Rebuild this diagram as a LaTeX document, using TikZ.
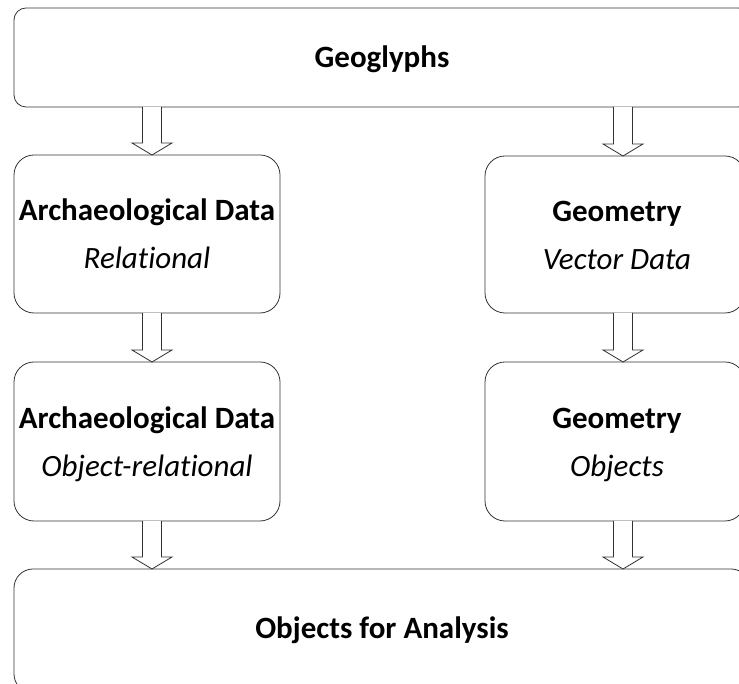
\documentclass[tikz,border=0pt]{standalone}
\usepackage{fontspec}
\setmainfont{Carlito}[Ligatures=CommonOff]
\usetikzlibrary{calc}
\tikzset{
  box/.style={draw=black!80, line width=0.8pt, fill=white, inner sep=0pt, outer sep=0pt},
  lab/.style={inner sep=0pt, outer sep=0pt, anchor=base, font=\fontsize{31}{31}\selectfont\bfseries},
  sub/.style={inner sep=0pt, outer sep=0pt, anchor=base, font=\fontsize{31}{31}\selectfont\itshape},
  barr/.style={draw=black!80, line width=0.8pt, fill=white, line join=miter},
}
\newcommand\blockarr[3]{%
  \draw[barr] let \p1=(#1.south), \p2=(#2.north) in
    (#3pt-9.5pt,\y1) -- (#3pt-9.5pt,\y2+12pt) -- (#3pt-20pt,\y2+12pt) -- (#3pt,\y2)
    -- (#3pt+20pt,\y2+12pt) -- (#3pt+9.5pt,\y2+12pt) -- (#3pt+9.5pt,\y1);%
}
\begin{document}
\begin{tikzpicture}[x=1pt,y=1pt]
\useasboundingbox (0,0) rectangle (739,684);
\clip (0,0) rectangle (739,684);
\node[box, rounded corners=12pt, minimum width=736pt, minimum height=99pt] (top) at (382,626.5) {};
\node[box, rounded corners=20pt, minimum width=266pt, minimum height=158pt] (arch1) at (147,450) {};
\node[box, rounded corners=20pt, minimum width=260pt, minimum height=157pt] (geo1) at (615,449.5) {};
\node[box, rounded corners=20pt, minimum width=266pt, minimum height=159pt] (arch2) at (147,242.5) {};
\node[box, rounded corners=20pt, minimum width=260pt, minimum height=159pt] (geo2) at (615,242.5) {};
\node[box, rounded corners=19pt, minimum width=736pt, minimum height=124pt] (bottom) at (382,53) {};

\node[lab] (t0) at ($(top.center)+(0,-10)$) {Geoglyphs};
\node[lab] (t1a) at ($(arch1.center)+(0,13)$) {Archaeological Data};
\node[sub] (t1b) at ($(arch1.center)+(0,-35)$) {Relational};
\node[lab] (t2a) at ($(geo1.center)+(2,13)$) {Geometry};
\node[sub] (t2b) at ($(geo1.center)+(2,-35)$) {Vector Data};
\node[lab] (t3a) at ($(arch2.center)+(0,13)$) {Archaeological Data};
\node[sub] (t3b) at ($(arch2.center)+(0,-35)$) {Object-relational};
\node[lab] (t4a) at ($(geo2.center)+(2,13)$) {Geometry};
\node[sub] (t4b) at ($(geo2.center)+(2,-35)$) {Objects};
\node[lab] (t5) at ($(bottom.center)+(0,-8)$) {Objects for Analysis};

\blockarr{top}{arch1}{152}
\blockarr{top}{geo1}{623}
\blockarr{arch1}{arch2}{152}
\blockarr{geo1}{geo2}{623}
\blockarr{arch2}{bottom}{152}
\blockarr{geo2}{bottom}{623}
\end{tikzpicture}
\end{document}
